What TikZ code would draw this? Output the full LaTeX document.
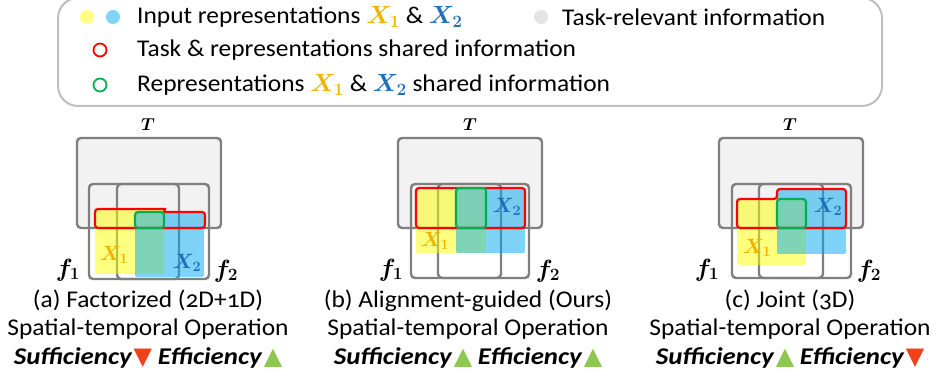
\documentclass[tikz,border=0pt]{standalone}
\usepackage{fontspec}
\usepackage{bm}
\setmainfont{Carlito}[Numbers=OldStyle, FakeStretch=1.06]
\newfontfamily\goodfont{Carlito}[FakeStretch=1.12]
\newfontfamily\symfont{DejaVu Sans}
\usetikzlibrary{calc}
\definecolor{linegray}{HTML}{7F7F7F}
\definecolor{taskgray}{HTML}{F2F2F2}
\definecolor{legendgray}{HTML}{BFBFBF}
\definecolor{repyellow}{HTML}{FFFF00}
\definecolor{repblue}{HTML}{00A8F0}
\definecolor{dotyellow}{HTML}{FFFF80}
\definecolor{dotblue}{HTML}{80D4F8}
\definecolor{dotgray}{HTML}{E4E4E4}
\definecolor{sharegreen}{HTML}{00B050}
\definecolor{xonecolor}{HTML}{F0B400}
\definecolor{xtwocolor}{HTML}{1F6FC0}
\definecolor{upgreen}{HTML}{8CC850}
\definecolor{downred}{HTML}{F0401C}
\newcommand{\xone}{\textcolor{xonecolor}{$\bm{X_1}$}}
\newcommand{\xtwo}{\textcolor{xtwocolor}{$\bm{X_2}$}}
\newcommand{\up}{\kern2pt{\symfont\textcolor{upgreen}{▲}}}
\newcommand{\down}{\kern2pt{\symfont\textcolor{downred}{▼}}}
\newcommand{\good}[1]{{\goodfont\bfseries\itshape #1}}

\begin{document}
\begin{tikzpicture}[x=1pt, y=-1pt]
            \tikzstyle{frame} = [draw=linegray, line width=2.4pt, rounded corners=4pt]
            \tikzstyle{task} = [frame, fill=taskgray]
            \tikzstyle{rep one} = [fill=repyellow, opacity=0.5, rounded corners=2pt]
            \tikzstyle{rep two} = [fill=repblue, opacity=0.5, rounded corners=2pt]
            \tikzstyle{shared task} = [draw=red, line width=2.2pt, rounded corners=3pt]
            \tikzstyle{shared rep} = [draw=sharegreen, line width=2.2pt, rounded corners=3pt]
            \tikzstyle{legend text} = [anchor=west, inner sep=0pt, font=\fontsize{24}{28}\selectfont]
            \tikzstyle{caption} = [align=center, inner sep=0pt, font=\fontsize{24}{28.5}\selectfont]
            \tikzstyle{math label} = [inner sep=0pt, font=\fontsize{22}{24}\selectfont]
            
            \useasboundingbox (0, 0) rectangle (932, 379);
            
            % legend
            \draw[draw=legendgray, line width=2pt, rounded corners=20pt] (58, -2) rectangle (882, 106);
            \fill[dotyellow] (87, 17) circle[radius=7];
            \fill[dotblue] (113, 17) circle[radius=7];
            \node[legend text] (input) at (137, 17) {Input representations \xone\ \& \xtwo};
            \fill[dotgray] (541, 17) circle[radius=7];
            \node[legend text] (relevant) at (562, 17) {Task-relevant information};
            \draw[red, line width=1.8pt] (100, 50) circle[radius=6.5];
            \node[legend text] (taskshared) at (137, 50) {Task \& representations shared information};
            \draw[sharegreen, line width=1.8pt] (100, 85) circle[radius=6.5];
            \node[legend text] (repshared) at (137, 85) {Representations \xone\ \& \xtwo\ shared information};
            
            % (a) factorized
            \draw[task] (77, 138) rectangle (221, 228);
            \draw[frame] (89, 184) rectangle (179, 279);
            \draw[frame] (117, 184) rectangle (209, 279);
            \fill[rep one] (95, 209) rectangle (164, 274);
            \fill[rep two] (135, 212) rectangle (204, 277);
            \draw[shared task] (95, 228) -- (95, 209) -- (162, 209) .. controls (164.5, 209) and (164.5, 212) .. (167, 212) -- (205, 212) -- (205, 228) -- cycle;
            \draw[shared rep] (135, 212) rectangle (164, 228);
            \node[math label, font=\fontsize{19}{22}\selectfont] (taska) at (148, 125) {$\bm{T}$};
            \node[math label, text=xonecolor] (xonea) at (114, 255) {$\bm{X_1}$};
            \node[math label, text=xtwocolor] (xtwoa) at (187, 263) {$\bm{X_2}$};
            \node[math label, font=\fontsize{24}{26}\selectfont] (fonea) at (68, 270) {$\bm{f_1}$};
            \node[math label, font=\fontsize{24}{26}\selectfont] (ftwoa) at (226, 271) {$\bm{f_2}$};
            \node[caption] (capa) at (148, 329) {(a) Factorized (2D+1D)\\Spatial-temporal Operation\\\good{Sufficiency}\down\ \good{Efficiency}\up};
            
            % (b) alignment-guided
            \draw[task] (398, 138) rectangle (542, 228);
            \draw[frame] (411, 184) rectangle (501, 278);
            \draw[frame] (438, 184) rectangle (529, 278);
            \fill[rep one] (416, 188) rectangle (486, 253);
            \fill[rep two] (456, 188) rectangle (525, 253);
            \draw[shared task] (416, 188) rectangle (525, 228);
            \draw[shared rep] (456, 188) rectangle (486, 228);
            \node[math label, font=\fontsize{19}{22}\selectfont] (taskb) at (470, 125) {$\bm{T}$};
            \node[math label, text=xonecolor] (xoneb) at (435, 241) {$\bm{X_1}$};
            \node[math label, text=xtwocolor] (xtwob) at (507, 207) {$\bm{X_2}$};
            \node[math label, font=\fontsize{24}{26}\selectfont] (foneb) at (391, 270) {$\bm{f_1}$};
            \node[math label, font=\fontsize{24}{26}\selectfont] (ftwob) at (548, 271) {$\bm{f_2}$};
            \node[caption] (capb) at (468, 329) {(b) Alignment-guided (Ours)\\Spatial-temporal Operation\\\good{Sufficiency}\up\ \good{Efficiency}\up};
            
            % (c) joint
            \draw[task] (719, 138) rectangle (863, 228);
            \draw[frame] (732, 184) rectangle (823, 278);
            \draw[frame] (759, 184) rectangle (851, 278);
            \fill[rep one] (737, 199) rectangle (806, 265);
            \fill[rep two] (777, 189) rectangle (846, 254);
            \draw[shared task] (737, 228) -- (737, 199) -- (777, 199) -- (777, 189) -- (846, 189) -- (846, 228) -- cycle;
            \draw[shared rep] (777, 199) rectangle (806, 228);
            \node[math label, font=\fontsize{19}{22}\selectfont] (taskc) at (790, 125) {$\bm{T}$};
            \node[math label, text=xonecolor] (xonec) at (757, 248) {$\bm{X_1}$};
            \node[math label, text=xtwocolor] (xtwoc) at (828, 207) {$\bm{X_2}$};
            \node[math label, font=\fontsize{24}{26}\selectfont] (fonec) at (707, 270) {$\bm{f_1}$};
            \node[math label, font=\fontsize{24}{26}\selectfont] (ftwoc) at (869, 271) {$\bm{f_2}$};
            \node[caption] (capc) at (790, 329) {(c) Joint (3D)\\Spatial-temporal Operation\\\good{Sufficiency}\up\ \good{Efficiency}\down};
        \end{tikzpicture}
\end{document}
